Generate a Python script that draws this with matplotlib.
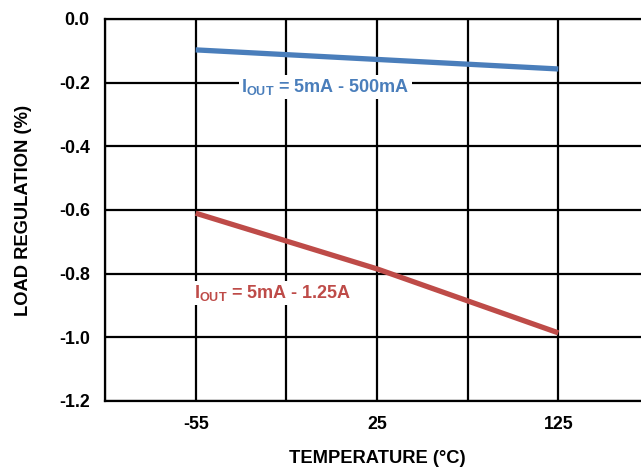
import matplotlib.pyplot as plt

plt.rcParams["font.family"] = ["Liberation Sans", "DejaVu Sans"]
plt.rcParams["mathtext.fontset"] = "custom"
plt.rcParams["mathtext.bf"] = "Liberation Sans:bold"
plt.rcParams["mathtext.rm"] = "Liberation Sans:bold"

# === Datos ===
temps = ["-55", "25", "125"]
pos = [1, 3, 5]
reg_500mA = [-0.097, -0.127, -0.157]
reg_125A = [-0.61, -0.785, -0.986]

BLUE = "#4A7EBB"
RED = "#BE4B48"

fig = plt.figure(figsize=(6.41, 4.69), dpi=100)
ax = fig.add_axes([0.1638, 0.145, 0.8487, 0.8145])

ax.plot(pos, reg_500mA, color=BLUE, lw=3.8, solid_capstyle="butt", zorder=3)
ax.plot(pos, reg_125A, color=RED, lw=3.8, solid_capstyle="butt", zorder=3)

ax.set_xlim(0, 6)
ax.set_ylim(-1.2, 0.0)
ax.set_xticks(pos)
ax.set_xticklabels(temps)
ax.set_xticks([0, 1, 2, 3, 4, 5, 6], minor=True)
ax.set_yticks([-1.2, -1.0, -0.8, -0.6, -0.4, -0.2, 0.0])
ax.set_yticklabels(["%.1f" % v for v in ax.get_yticks()])
ax.grid(True, which="both", color="black", lw=1.6)
ax.tick_params(which="both", length=0, labelsize=12.8, pad=11)
for lbl in ax.get_xticklabels() + ax.get_yticklabels():
    lbl.set_fontweight("bold")
for s in ax.spines.values():
    s.set_linewidth(1.6)

ax.set_xlabel("TEMPERATURE (°C)", fontsize=13.2, fontweight="bold", labelpad=12)
ax.set_ylabel("LOAD REGULATION (%)", fontsize=13.2, fontweight="bold", labelpad=19)

box = dict(facecolor="white", edgecolor="none", pad=1.5)
ax.text(1.5, -0.213, r"I$_{\mathbf{OUT}}$ = 5mA - 500mA", color=BLUE, fontsize=13,
        fontweight="bold", va="center", ha="left", bbox=box, zorder=4)
ax.text(0.98, -0.86, r"I$_{\mathbf{OUT}}$ = 5mA - 1.25A", color=RED, fontsize=13,
        fontweight="bold", va="center", ha="left", bbox=box, zorder=4)

plt.savefig("out.png", dpi=100)
plt.close()
